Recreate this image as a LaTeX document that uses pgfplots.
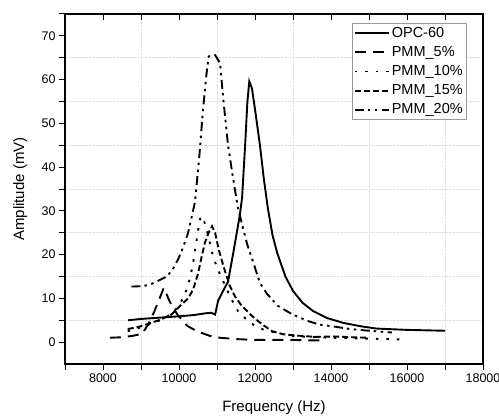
\documentclass[border=0pt]{standalone}
\usepackage{pgfplots}
\pgfplotsset{compat=1.18}
\usepackage{fontspec}
\setmainfont{Liberation Sans}
\usetikzlibrary{calc}

\begin{document}
\begin{tikzpicture}
\pgfplotsset{
  every axis/.append style={
    scale only axis, width=418pt, height=350pt,
    xmin=7000, xmax=18000, ymin=-5, ymax=75,
    scaled x ticks=false, scaled y ticks=false,
  },
}
\begin{axis}[
  axis line style={line width=1.2pt},
  xtick={8000,10000,...,18000},
  xticklabels={8000,10000,12000,14000,16000,18000},
  minor xtick={7000,9000,...,17000},
  ytick={0,10,...,70},
  yticklabels={0,10,20,30,40,50,60,70},
  minor ytick={5,15,...,75},
  xtick pos=bottom, ytick pos=left,
  tick align=outside,
  major tick length=6pt, minor tick length=6pt,
  tick style={line width=1pt, black},
  every minor tick/.style={line width=1pt, black},
  xminorgrids, yminorgrids,
  minor grid style={densely dotted, gray!25, line width=0.6pt},
  tick label style={font=\fontsize{12.5}{14}\selectfont},
  xlabel={Frequency (Hz)}, ylabel={Amplitude (mV)},
  label style={font=\fontsize{15}{18}\selectfont},
  xlabel style={at={(axis description cs:0.5,-0.126)}, anchor=center, inner sep=0pt},
  ylabel style={at={(axis description cs:-0.107,0.5)}, anchor=center, inner sep=0pt},
  legend style={at={(rel axis cs:0.962,0.974)}, anchor=north east,
    draw=gray!80, line width=0.8pt, fill=white,
    font=\fontsize{14.5}{17}\selectfont, inner xsep=2pt, inner ysep=2pt,
    row sep=3.5pt,
    /tikz/every odd column/.append style={column sep=0pt}},
  legend cell align=left,
  legend image code/.code={\draw[#1, line width=1.9pt] (0pt,0pt) -- (34pt,0pt);},
]
\addplot[black, line width=1.9pt, solid] coordinates {
(8660,5.0)(9000,5.3)(9500,5.6)(10000,5.9)(10400,6.2)(10700,6.6)(10850,6.7)(10950,6.3)
(11030,9.5)(11160,11.7)(11290,13.8)(11420,20)(11520,25)(11600,29)(11660,33)(11740,45)
(11800,55)(11850,59.6)(11920,58)(12020,52)(12130,45)(12230,37.5)(12340,30.5)(12460,24.5)
(12580,20.5)(12800,15)(13000,11.7)(13250,9)(13530,7.1)(13900,5.5)(14320,4.4)(14800,3.6)
(15200,3.1)(16000,2.8)(17000,2.6)
};
\addlegendentry{OPC-60}
\addplot[black, line width=1.9pt, dash pattern=on 11pt off 7pt] coordinates {
(8180,1.0)(8450,1.1)(8760,1.4)(9030,1.9)(9200,4.2)(9350,7)(9480,9.8)(9600,12.4)
(9760,9.2)(9950,6.4)(10220,3.7)(10470,2.5)(10820,1.4)(11080,1.0)(11500,0.7)(12000,0.5)
(12500,0.5)(13000,0.5)(13500,0.4)(13800,0.4)
};
\addlegendentry{PMM\_5\%}
\addplot[black, line width=1.9pt, dash pattern=on 2.5pt off 8pt] coordinates {
(8650,2.5)(8900,3.1)(9200,4.0)(9500,5.0)(9800,6.4)(10000,8.3)(10100,10)(10210,12.2)
(10300,15)(10370,18)(10450,22.5)(10500,25.5)(10570,28.8)(10650,28)(10750,25)(10870,20.5)
(11000,17)(11160,14)(11340,10.5)(11550,7.1)(11870,4.4)(12210,2.9)(12580,2.1)(12970,1.4)
(13400,1.2)(14000,1.0)(14500,0.9)(15000,0.8)(15500,0.7)(15950,0.6)
};
\addlegendentry{PMM\_10\%}
\addplot[black, line width=1.9pt, dash pattern=on 6pt off 3pt] coordinates {
(8650,3.0)(8900,3.4)(9200,4.2)(9500,5.1)(9800,6.3)(10030,8.3)(10240,10)(10370,12)
(10500,15.6)(10600,19.7)(10680,22.7)(10780,25)(10870,26.5)(10950,25)(11050,21)(11200,16.5)
(11330,13)(11470,10.5)(11650,8.3)(11920,6)(12180,4.1)(12450,2.5)(12740,1.8)(13100,1.5)
(13600,1.2)(14100,1.3)(14600,1.1)(15000,1.0)
};
\addlegendentry{PMM\_15\%}
\addplot[black, line width=1.9pt, dash pattern=on 9pt off 4pt on 2.5pt off 4.5pt on 2.5pt off 4.5pt] coordinates {
(8750,12.7)(9050,12.8)(9250,13.2)(9450,14)(9680,15)(9840,16.7)(9980,19)(10100,21.5)
(10240,25)(10420,32)(10530,42)(10630,53)(10720,61)(10780,65.3)(10950,65.6)(11080,63.8)
(11160,56)(11290,45)(11420,37.6)(11550,30.7)(11790,22.5)(12000,17)(12130,13.5)(12320,11)
(12600,8.3)(12970,6.4)(13400,4.8)(13700,4.0)(14050,3.6)(14500,3.0)(15000,2.6)(15600,2.2)
};
\addlegendentry{PMM\_20\%}
\end{axis}
% top axis: inward ticks every 1000
\begin{axis}[
  hide y axis,
  axis x line*=top,
  axis line style={line width=1.2pt},
  xtick={7000,8000,...,18000},
  xticklabels={},
  tick align=inside,
  major tick length=6pt,
  tick style={line width=1pt, black},
]
\end{axis}
\pgfresetboundingbox
\path[use as bounding box] ($(current axis.south west)+(-65pt,-54pt)$) rectangle ($(current axis.north east)+(16pt,14pt)$);
\end{tikzpicture}
\end{document}
